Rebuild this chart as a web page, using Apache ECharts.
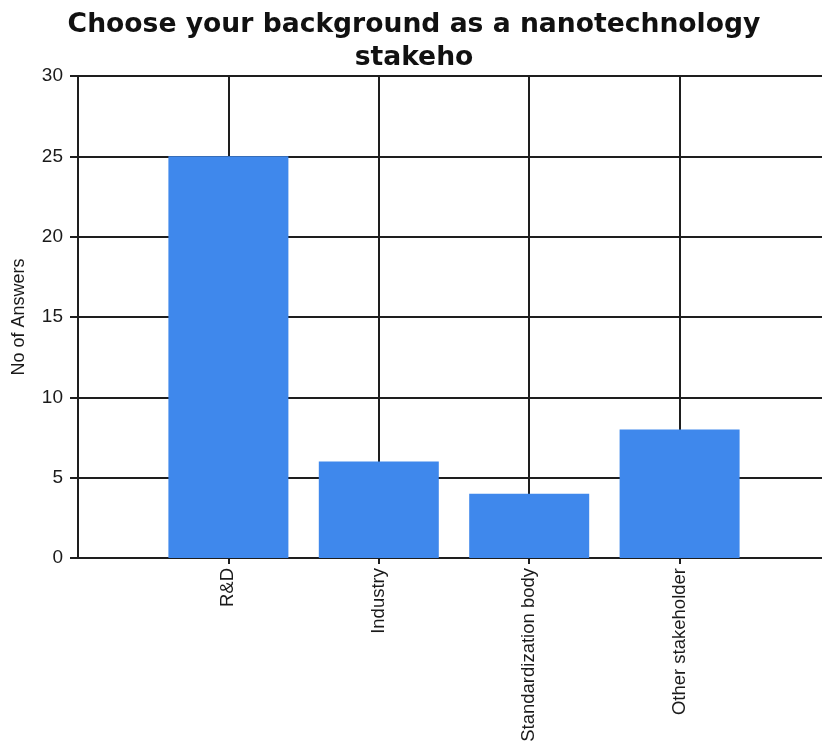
<!DOCTYPE html>
<html>
<head>
<meta charset="utf-8">
<script src="https://cdn.jsdelivr.net/npm/echarts@6/dist/echarts.min.js"></script>
<style>
  html, body { margin: 0; padding: 0; background: #ffffff; overflow: hidden; }
  #chart { width: 822px; height: 742px; }
</style>
</head>
<body>
<div id="chart"></div>
<script>
// Survey answers per stakeholder group
const categories = ['R&D', 'Industry', 'Standardization body', 'Other stakeholder'];
const answers = [25, 6, 4, 8];
const yTicks = [0, 5, 10, 15, 20, 25, 30];

// Pad the category axis with an empty slot at each end so the groups sit on gridlines
const axisData = [''].concat(categories, ['']);
const barData = ['-'].concat(answers, ['-']);

const chart = echarts.init(document.getElementById('chart'), null, { renderer: 'canvas' });

const lineStyle = { color: '#1e1e1e', width: 2 };

chart.setOption({
  animation: false,
  backgroundColor: '#ffffff',
  title: {
    text: 'Choose your background as a nanotechnology\nstakeho',
    left: 409,
    textAlign: 'center',
    top: 4,
    textStyle: {
      fontFamily: 'DejaVu Sans',
      fontWeight: 'bold',
      fontSize: 26.6,
      lineHeight: 33,
      color: '#111111'
    }
  },
  // the plot area runs slightly past the right edge of the canvas
  grid: { left: 78, top: 76, bottom: 184, right: -8, containLabel: false, outerBoundsMode: 'none' },
  xAxis: {
    type: 'category',
    data: axisData,
    boundaryGap: false,
    axisLine: { lineStyle: lineStyle },
    axisTick: {
      length: 6,
      lineStyle: lineStyle,
      interval: function (idx, val) { return val !== ''; }
    },
    axisLabel: {
      rotate: 90,
      margin: 10,
      interval: 0,
      fontFamily: 'Liberation Sans',
      fontSize: 18.5,
      color: '#1a1a1a'
    },
    splitLine: { show: true, lineStyle: lineStyle }
  },
  yAxis: {
    type: 'value',
    min: yTicks[0],
    max: yTicks[yTicks.length - 1],
    interval: yTicks[1] - yTicks[0],
    name: 'No of Answers',
    nameLocation: 'middle',
    nameGap: 50,
    nameRotate: 90,
    nameTextStyle: { fontFamily: 'Liberation Sans', fontSize: 18, color: '#1a1a1a' },
    axisLine: { show: true, lineStyle: lineStyle },
    axisTick: { show: true, length: 8, lineStyle: lineStyle },
    axisLabel: {
      margin: 15,
      fontFamily: 'Liberation Sans',
      fontSize: 19,
      color: '#1a1a1a'
    },
    splitLine: { show: true, lineStyle: lineStyle }
  },
  series: [{
    type: 'bar',
    data: barData,
    barWidth: 120,
    itemStyle: { color: '#3f88ec' }
  }]
});
</script>
</body>
</html>
